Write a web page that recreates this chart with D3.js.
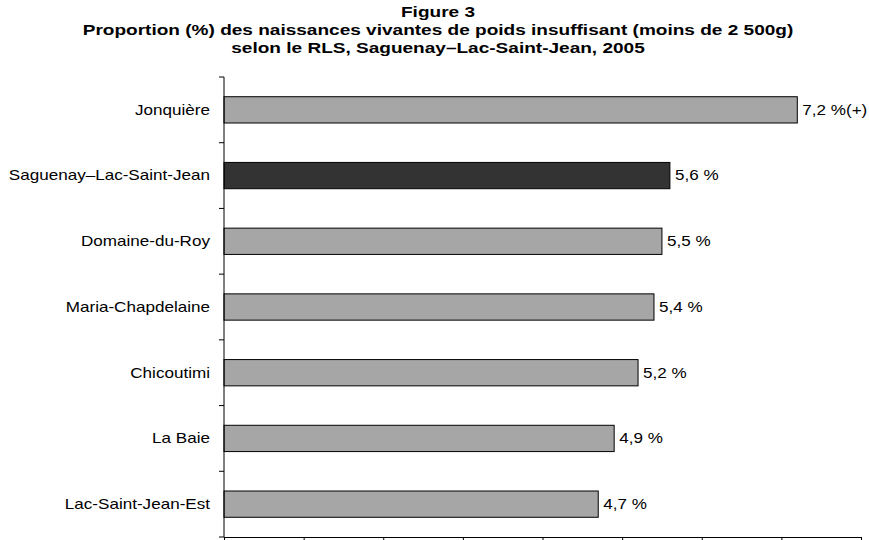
<!DOCTYPE html>
<html>
<head>
<meta charset="utf-8">
<script src="https://cdn.jsdelivr.net/npm/d3@7"></script>
<style>
  body { margin: 0; background: #fff; }
  text { font-family: "Liberation Sans", Arial, sans-serif; }
</style>
</head>
<body>
<div id="chart"></div>
<script>
// données
const categories = ["Jonquière", "Saguenay–Lac-Saint-Jean", "Domaine-du-Roy", "Maria-Chapdelaine", "Chicoutimi", "La Baie", "Lac-Saint-Jean-Est"];
const values = [7.2, 5.6, 5.5, 5.4, 5.2, 4.9, 4.7];
const valueLabels = ["7,2 %(+)", "5,6 %", "5,5 %", "5,4 %", "5,2 %", "4,9 %", "4,7 %"];
const highlight = "Saguenay–Lac-Saint-Jean";
const xTicks = [0, 1, 2, 3, 4, 5, 6, 7, 8];
const titleLines = [
  "Figure 3",
  "Proportion (%) des naissances vivantes de poids insuffisant (moins de 2 500g)",
  "selon le RLS, Saguenay–Lac-Saint-Jean, 2005"
];

const W = 869, H = 540;
const margin = { top: 77, right: 8, bottom: 3, left: 224 };
const stretch = 1.22; // la figure d'origine est un peu étirée en largeur

const svg = d3.select("#chart").append("svg")
    .attr("width", W)
    .attr("height", H);

const x = d3.scaleLinear()
    .domain([0, 8])
    .range([margin.left, 861]);

const y = d3.scaleBand()
    .domain(categories)
    .range([margin.top, H - margin.bottom])
    .paddingInner(0.6)
    .paddingOuter(0.3);

// titre
svg.append("g")
  .selectAll("text")
  .data(titleLines)
  .enter().append("text")
    .attr("transform", (d, i) => `translate(438,${17 + i * 18}) scale(1.27,1)`)
    .attr("text-anchor", "middle")
    .style("font-size", "15px")
    .style("font-weight", "bold")
    .text(d => d);

// barres
svg.selectAll(".bar")
  .data(categories)
  .enter().append("rect")
    .attr("class", "bar")
    .attr("x", x(0))
    .attr("y", d => y(d))
    .attr("width", (d, i) => x(values[i]) - x(0))
    .attr("height", y.bandwidth())
    .attr("fill", d => d === highlight ? "#333333" : "#a6a6a6")
    .attr("stroke", "#000")
    .attr("stroke-width", 1);

// étiquettes de valeur
svg.selectAll(".label")
  .data(categories)
  .enter().append("text")
    .attr("class", "label")
    .attr("transform", (d, i) => `translate(${x(values[i]) + 5},${y(d) + y.bandwidth() / 2}) scale(${stretch},1)`)
    .attr("dy", "0.35em")
    .style("font-size", "14px")
    .text((d, i) => valueLabels[i]);

// axe y (catégories)
const yAxis = svg.append("g")
    .attr("transform", `translate(${margin.left},0)`);
yAxis.append("line")
    .attr("x1", 0).attr("x2", 0)
    .attr("y1", margin.top).attr("y2", H - margin.bottom)
    .attr("stroke", "#000");
const bounds = d3.range(categories.length + 1).map(i => margin.top + i * (H - margin.bottom - margin.top) / categories.length);
yAxis.selectAll(".ytick")
  .data(bounds)
  .enter().append("line")
    .attr("x1", -5).attr("x2", 0)
    .attr("y1", d => d).attr("y2", d => d)
    .attr("stroke", "#000");
yAxis.selectAll(".cat")
  .data(categories)
  .enter().append("text")
    .attr("transform", d => `translate(-14,${y(d) + y.bandwidth() / 2}) scale(${stretch},1)`)
    .attr("dy", "0.35em")
    .attr("text-anchor", "end")
    .style("font-size", "14px")
    .text(d => d);

// axe x
svg.append("g")
    .attr("transform", `translate(0,${H - margin.bottom})`)
    .call(d3.axisBottom(x).tickValues(xTicks).tickSize(5).tickSizeOuter(0).tickFormat(""))
    .call(g => g.select(".domain").attr("stroke", "#000"))
    .call(g => g.selectAll(".tick line").attr("stroke", "#000"));
</script>
</body>
</html>
